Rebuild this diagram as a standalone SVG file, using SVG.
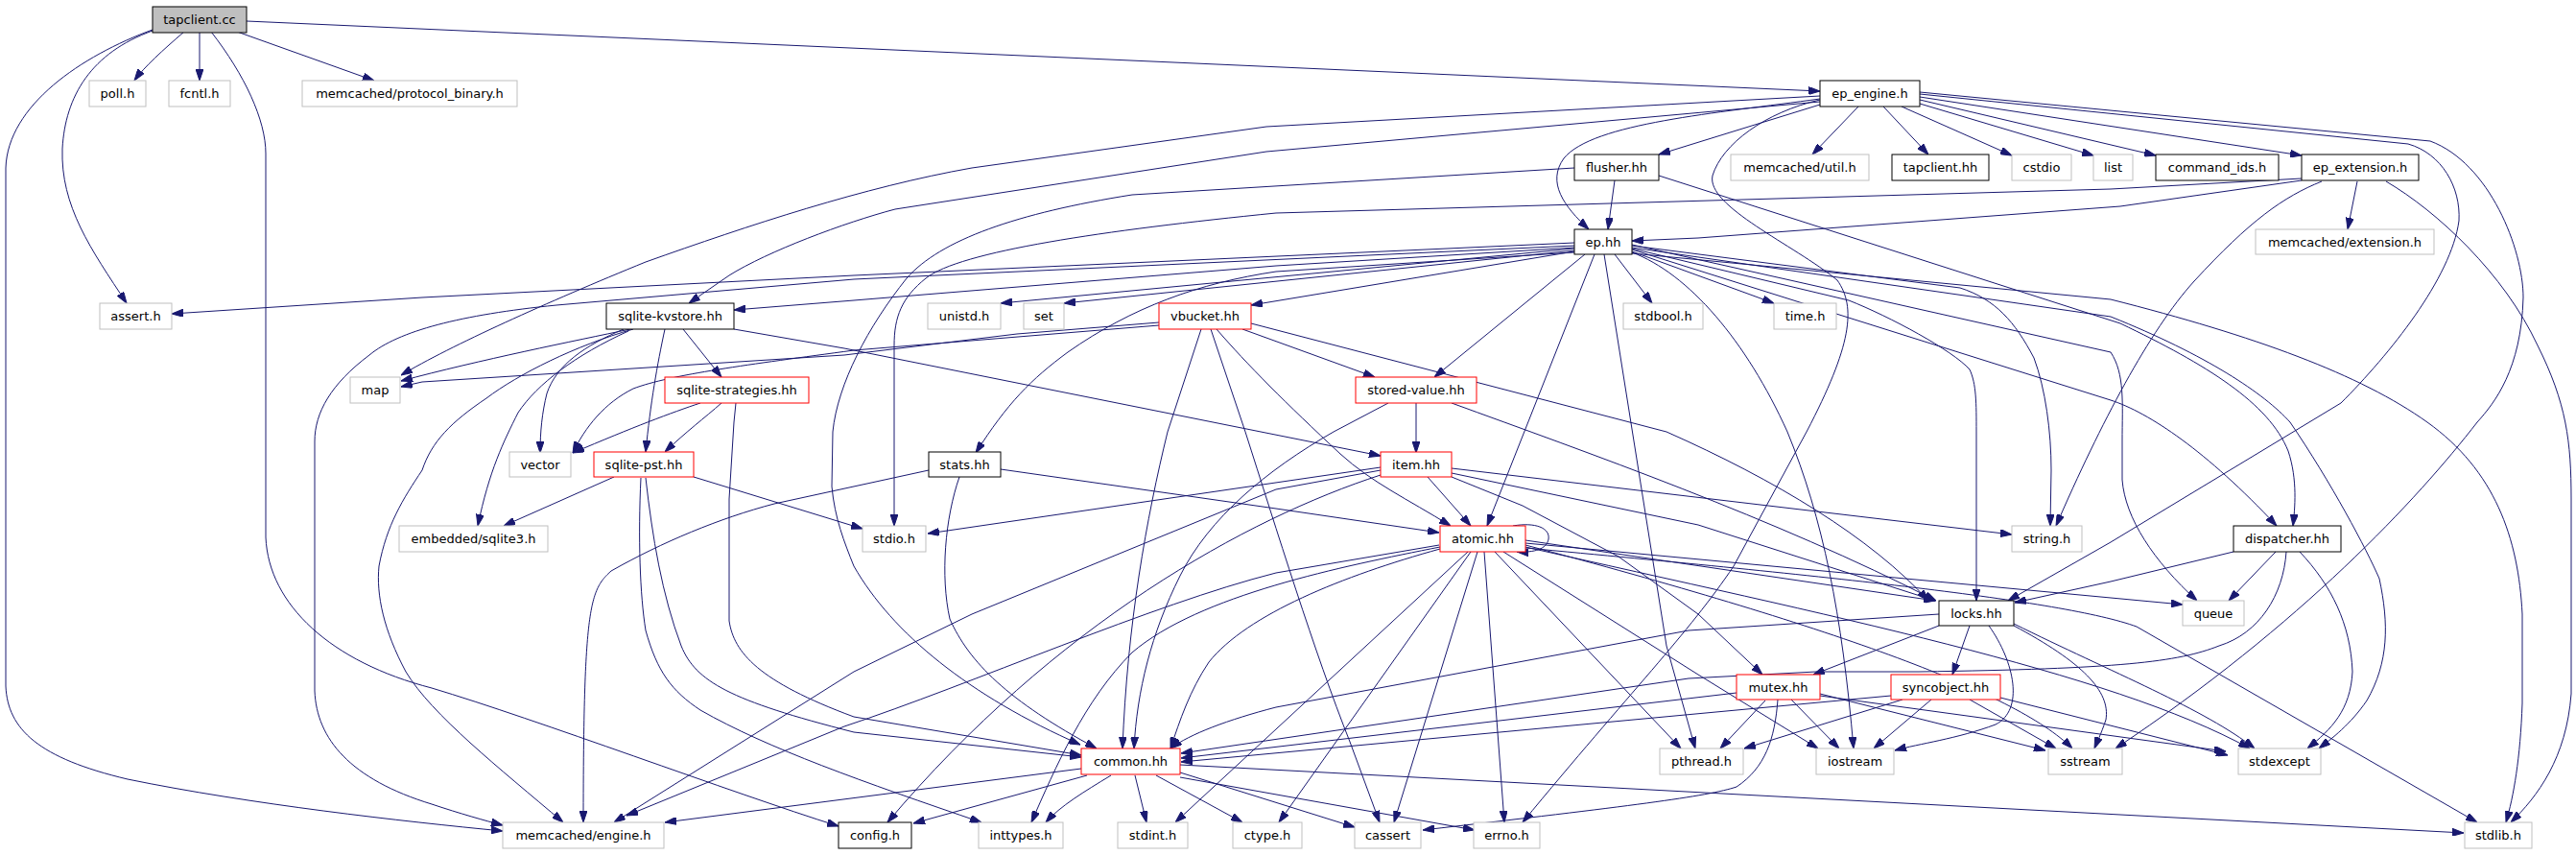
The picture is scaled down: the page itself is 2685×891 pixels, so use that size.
<svg xmlns="http://www.w3.org/2000/svg" width="2685" height="891" viewBox="0 0 2685 891">
<style>
.e{fill:none;stroke:#191970;stroke-width:1;marker-end:url(#a)}
rect{fill:#fff;stroke-width:1}
.b{stroke:#000}
.r{stroke:#f00}
.g{stroke:#bfbfbf}
text{font-family:"DejaVu Sans",sans-serif;font-size:13px;text-anchor:middle;fill:#000}
</style>
<defs>
<marker id="a" markerUnits="userSpaceOnUse" markerWidth="12" markerHeight="8" refX="12" refY="4" orient="auto"><path d="M0,0 L12,4 L0,8 z" fill="#191970" stroke="#191970"/></marker>
</defs>
<rect x="0" y="0" width="2685" height="891" style="fill:#fff;stroke:none"/>
<g id="edges">
<path class="e" d="M192,33 C170,52 150,70 140,84"/>
<path class="e" d="M208,33 L208,84"/>
<path class="e" d="M247,33 L390,84"/>
<path class="e" d="M257,22 L1897,95"/>
<path class="e" d="M159,32 C95,55 68,100 65,155 C63,215 95,260 132,316"/>
<path class="e" d="M159,31 C85,58 8,110 6,175 L6,715 C8,760 40,790 133,812 C260,838 420,856 524,866"/>
<path class="e" d="M220,33 C255,78 277,125 277,160 L277,560 C280,630 345,690 450,717 C560,750 760,825 874,861"/>
<path class="e" d="M1937,111 L1889,161"/>
<path class="e" d="M1963,111 L2010,161"/>
<path class="e" d="M1982,111 L2097,162"/>
<path class="e" d="M2001,108 L2182,162"/>
<path class="e" d="M2001,104 L2247,162"/>
<path class="e" d="M2001,101 L2399,162"/>
<path class="e" d="M1897,109 L1729,161"/>
<path class="e" d="M1897,103 C1790,118 1660,128 1630,165 C1612,190 1630,215 1656,239"/>
<path class="e" d="M1897,106 L1320,158 L933,218 C880,232 800,262 760,287 L718,316"/>
<path class="e" d="M1897,100 L1320,132 L1013,175 C900,195 780,235 673,273 C570,315 470,360 418,391"/>
<path class="e" d="M1897,104 C1840,117 1795,150 1785,183 C1778,215 1870,255 1915,292 C1935,320 1930,360 1883,450 L1807,590 C1760,660 1700,720 1587,857"/>
<path class="e" d="M2001,98 L2510,150 C2545,160 2565,195 2563,230 C2555,290 2490,370 2440,420 L2200,565 L2093,626"/>
<path class="e" d="M2001,96 L2533,147 C2595,170 2630,260 2630,310 C2628,385 2600,420 2582,440 C2520,520 2400,650 2205,780"/>
<path class="e" d="M1683,188 L1676,239"/>
<path class="e" d="M1641,175 L1180,203 C1060,222 980,250 945,290 C905,340 873,400 868,450 L867,507 C870,540 880,565 890,590 C930,660 1010,725 1126,776"/>
<path class="e" d="M1729,183 L2210,337 C2300,380 2365,420 2385,470 C2395,500 2392,530 2390,548"/>
<path class="e" d="M2399,188 L2210,215 L1770,248 L1701,251"/>
<path class="e" d="M2457,189 L2447,239"/>
<path class="e" d="M2399,186 L2200,197 L1330,222 C1150,240 1000,262 965,290 C940,310 932,330 932,360 L932,548"/>
<path class="e" d="M2420,189 C2380,205 2345,230 2287,293 C2240,345 2190,440 2143,548"/>
<path class="e" d="M2487,189 C2540,220 2610,285 2645,360 C2675,420 2680,460 2680,520 L2680,723 C2675,790 2645,830 2617,857"/>
<path class="e" d="M1641,253 L890,287 L440,310 L179,327"/>
<path class="e" d="M1641,256 L890,291 L580,318 C480,328 415,345 385,370 C345,400 328,430 328,460 L328,720 C330,770 365,812 450,838 C480,848 505,855 524,860"/>
<path class="e" d="M1641,258 L1330,277 L890,313 L765,323"/>
<path class="e" d="M1641,259 L1043,316"/>
<path class="e" d="M1641,261 L1109,316"/>
<path class="e" d="M1641,262 L1304,318"/>
<path class="e" d="M1683,265 L1722,316"/>
<path class="e" d="M1701,262 L1849,316"/>
<path class="e" d="M1652,265 L1495,393"/>
<path class="e" d="M1641,263 L1330,283 C1250,295 1180,320 1113,367 C1075,395 1050,420 1017,472"/>
<path class="e" d="M1662,265 L1550,548"/>
<path class="e" d="M1672,265 L1737,673 L1767,780"/>
<path class="e" d="M1701,263 C1760,285 1820,355 1863,450 C1900,540 1920,640 1932,780"/>
<path class="e" d="M1701,259 L1927,313 C1970,330 2035,365 2053,385 C2060,400 2060,420 2060,450 L2060,626"/>
<path class="e" d="M1701,256 L2043,300 C2080,312 2100,335 2120,373 C2132,405 2138,450 2138,490 L2137,548"/>
<path class="e" d="M1701,255 L2200,367 C2215,390 2212,420 2212,460 L2212,500 C2215,540 2245,585 2290,626"/>
<path class="e" d="M1701,260 L2200,417 C2240,430 2300,470 2373,548"/>
<path class="e" d="M1701,258 L2200,330 C2300,370 2360,410 2387,440 C2430,503 2467,573 2480,603 C2490,650 2490,690 2467,730 C2450,755 2430,770 2417,780"/>
<path class="e" d="M1701,264 L2200,312 C2350,350 2460,390 2530,440 C2600,490 2625,560 2629,640 L2629,733 C2627,790 2620,830 2612,857"/>
<path class="e" d="M1208,336 L1060,348 L880,370 L440,398 L418,403"/>
<path class="e" d="M1208,339 L890,365 C780,380 700,390 660,405 C630,420 610,445 597,472"/>
<path class="e" d="M1252,343 L1217,450 C1195,540 1175,650 1170,780"/>
<path class="e" d="M1262,343 L1298,450 C1330,550 1370,680 1407,773 L1438,857"/>
<path class="e" d="M1268,343 C1300,380 1340,420 1397,473 C1430,503 1467,520 1512,548"/>
<path class="e" d="M1295,343 L1433,393"/>
<path class="e" d="M1304,337 L1737,450 C1850,500 1950,560 2010,626"/>
<path class="e" d="M1476,420 L1476,472"/>
<path class="e" d="M1447,420 L1390,450 C1320,490 1260,540 1230,600 C1200,660 1185,720 1182,780"/>
<path class="e" d="M1513,420 C1650,470 1850,540 2018,626"/>
<path class="e" d="M657,343 C600,355 500,375 418,397"/>
<path class="e" d="M650,343 C610,360 580,380 570,410 C565,430 563,450 563,472"/>
<path class="e" d="M655,345 C600,370 560,400 540,430 C525,460 510,490 498,548"/>
<path class="e" d="M660,343 C600,360 540,390 507,415 C470,440 450,460 440,490 C420,520 403,547 395,590 C392,620 400,657 423,700 C450,745 520,800 587,857"/>
<path class="e" d="M712,343 L752,393"/>
<path class="e" d="M693,343 C685,380 678,420 673,471"/>
<path class="e" d="M765,343 L880,363 L1439,475"/>
<path class="e" d="M730,420 C700,430 660,445 597,472"/>
<path class="e" d="M752,420 C735,435 715,450 693,471"/>
<path class="e" d="M767,420 L765,440 L760,520 L760,647 C765,680 790,710 890,747 L1127,787"/>
<path class="e" d="M640,497 L525,548"/>
<path class="e" d="M723,497 L899,551"/>
<path class="e" d="M673,498 C680,560 690,620 710,673 C725,710 760,730 890,763 L1127,789"/>
<path class="e" d="M668,498 C665,560 667,620 673,657 C685,700 700,720 730,740 C800,780 900,815 1023,857"/>
<path class="e" d="M968,490 L807,525 C750,540 690,565 637,595 C615,615 608,630 608,857"/>
<path class="e" d="M1000,497 C985,540 980,600 990,645 C1010,690 1050,730 1143,780"/>
<path class="e" d="M1043,489 L1330,530 L1500,555"/>
<path class="e" d="M1488,497 L1533,548"/>
<path class="e" d="M1439,490 L1330,510 L1013,640 L890,700 L640,857"/>
<path class="e" d="M1439,487 L967,556"/>
<path class="e" d="M1439,495 C1300,540 1100,650 925,857"/>
<path class="e" d="M1513,488 L2097,557"/>
<path class="e" d="M1513,497 L1587,527 L1687,580 L1770,640 L1837,703"/>
<path class="e" d="M1513,493 L1770,547 L2017,626"/>
<path class="e" d="M1577,548 C1600,544 1616,550 1614,562 C1612,572 1600,576 1581,575"/>
<path class="e" d="M1500,568 L1330,597 C1200,630 1013,713 880,757 L653,850"/>
<path class="e" d="M1501,570 C1400,590 1250,620 1180,680 C1130,730 1100,800 1075,857"/>
<path class="e" d="M1501,572 C1400,600 1300,640 1260,690 C1240,720 1230,750 1220,780"/>
<path class="e" d="M1530,575 L1225,857"/>
<path class="e" d="M1533,575 L1333,857"/>
<path class="e" d="M1540,575 L1453,857"/>
<path class="e" d="M1547,575 L1568,857"/>
<path class="e" d="M1558,575 L1752,780"/>
<path class="e" d="M1567,575 L1770,703 L1895,780"/>
<path class="e" d="M1590,563 L2017,626"/>
<path class="e" d="M1590,566 L2275,630"/>
<path class="e" d="M1590,568 C1900,650 2100,720 2160,780"/>
<path class="e" d="M1590,570 C1900,640 2200,700 2345,780"/>
<path class="e" d="M1590,571 C1900,600 2150,625 2227,653 L2582,857"/>
<path class="e" d="M1127,801 L693,857"/>
<path class="e" d="M1133,808 L952,858"/>
<path class="e" d="M1158,808 C1130,825 1105,840 1090,857"/>
<path class="e" d="M1183,808 L1195,857"/>
<path class="e" d="M1205,808 L1295,857"/>
<path class="e" d="M1230,805 L1412,862"/>
<path class="e" d="M1230,810 L1537,865"/>
<path class="e" d="M1230,797 L2568,868"/>
<path class="e" d="M1840,730 L1793,780"/>
<path class="e" d="M1867,729 L1917,780"/>
<path class="e" d="M1897,723 L2132,782"/>
<path class="e" d="M1853,729 C1850,770 1840,800 1810,820 C1780,830 1700,840 1483,865"/>
<path class="e" d="M1810,722 L1231,790"/>
<path class="e" d="M1897,725 L2320,783"/>
<path class="e" d="M1983,729 L1818,780"/>
<path class="e" d="M2013,729 L1953,780"/>
<path class="e" d="M2053,729 L2143,780"/>
<path class="e" d="M2085,727 L2322,787"/>
<path class="e" d="M1971,725 L1231,794"/>
<path class="e" d="M2021,640 L1760,657 L1330,737 C1280,750 1240,765 1220,780"/>
<path class="e" d="M2021,652 L1890,703"/>
<path class="e" d="M2053,652 L2035,703"/>
<path class="e" d="M2073,652 C2100,690 2110,740 2080,755 C2040,770 2000,775 1975,782"/>
<path class="e" d="M2099,652 C2170,690 2200,720 2195,750 C2190,765 2185,775 2183,780"/>
<path class="e" d="M2099,650 C2200,700 2300,740 2350,780"/>
<path class="e" d="M2328,575 L2200,606 L2100,628"/>
<path class="e" d="M2372,575 L2323,626"/>
<path class="e" d="M2397,575 C2430,610 2450,650 2452,700 C2450,740 2430,760 2405,780"/>
<path class="e" d="M2383,575 C2380,620 2355,660 2313,673 C2270,690 2210,697 2000,700 L1893,700 L1760,707 L1231,785"/>
</g>
<g id="n_tapclient_cc"><rect x="159" y="7" width="98" height="27" style="fill:#bfbfbf" class="b"/><text x="208" y="25">tapclient.cc</text></g>
<g id="n_poll_h"><rect x="93" y="84" width="59" height="27" class="g"/><text x="122.5" y="102">poll.h</text></g>
<g id="n_fcntl_h"><rect x="176" y="84" width="64" height="27" class="g"/><text x="208" y="102">fcntl.h</text></g>
<g id="n_protocol_binary_h"><rect x="315" y="84" width="224" height="27" class="g"/><text x="427" y="102">memcached/protocol_binary.h</text></g>
<g id="n_ep_engine_h"><rect x="1897" y="84" width="104" height="27" class="b"/><text x="1949" y="102">ep_engine.h</text></g>
<g id="n_util_h"><rect x="1804" y="161" width="144" height="27" class="g"/><text x="1876" y="179">memcached/util.h</text></g>
<g id="n_tapclient_hh"><rect x="1972" y="161" width="101" height="27" class="b"/><text x="2022.5" y="179">tapclient.hh</text></g>
<g id="n_cstdio"><rect x="2097" y="161" width="62" height="27" class="g"/><text x="2128" y="179">cstdio</text></g>
<g id="n_list"><rect x="2182" y="161" width="41" height="27" class="g"/><text x="2202.5" y="179">list</text></g>
<g id="n_command_ids_h"><rect x="2247" y="161" width="128" height="27" class="b"/><text x="2311" y="179">command_ids.h</text></g>
<g id="n_ep_extension_h"><rect x="2399" y="161" width="122" height="27" class="b"/><text x="2460" y="179">ep_extension.h</text></g>
<g id="n_flusher_hh"><rect x="1641" y="161" width="88" height="27" class="b"/><text x="1685" y="179">flusher.hh</text></g>
<g id="n_ep_hh"><rect x="1641" y="239" width="60" height="26" class="b"/><text x="1671" y="257">ep.hh</text></g>
<g id="n_extension_h"><rect x="2351" y="239" width="186" height="26" class="g"/><text x="2444" y="257">memcached/extension.h</text></g>
<g id="n_assert_h"><rect x="104" y="316" width="75" height="27" class="g"/><text x="141.5" y="334">assert.h</text></g>
<g id="n_sqlite_kvstore_hh"><rect x="632" y="316" width="133" height="27" class="b"/><text x="698.5" y="334">sqlite-kvstore.hh</text></g>
<g id="n_unistd_h"><rect x="967" y="316" width="76" height="27" class="g"/><text x="1005" y="334">unistd.h</text></g>
<g id="n_set"><rect x="1067" y="316" width="42" height="27" class="g"/><text x="1088" y="334">set</text></g>
<g id="n_vbucket_hh"><rect x="1208" y="316" width="96" height="27" class="r"/><text x="1256" y="334">vbucket.hh</text></g>
<g id="n_stdbool_h"><rect x="1692" y="316" width="83" height="27" class="g"/><text x="1733.5" y="334">stdbool.h</text></g>
<g id="n_time_h"><rect x="1849" y="316" width="65" height="27" class="g"/><text x="1881.5" y="334">time.h</text></g>
<g id="n_map"><rect x="365" y="393" width="52" height="27" class="g"/><text x="391" y="411">map</text></g>
<g id="n_sqlite_strategies_hh"><rect x="693" y="393" width="150" height="27" class="r"/><text x="768" y="411">sqlite-strategies.hh</text></g>
<g id="n_stored_value_hh"><rect x="1413" y="393" width="126" height="27" class="r"/><text x="1476" y="411">stored-value.hh</text></g>
<g id="n_vector"><rect x="531" y="471" width="64" height="26" class="g"/><text x="563" y="489">vector</text></g>
<g id="n_sqlite_pst_hh"><rect x="619" y="471" width="104" height="26" class="r"/><text x="671" y="489">sqlite-pst.hh</text></g>
<g id="n_stats_hh"><rect x="968" y="471" width="75" height="26" class="b"/><text x="1005.5" y="489">stats.hh</text></g>
<g id="n_item_hh"><rect x="1439" y="471" width="74" height="26" class="r"/><text x="1476" y="489">item.hh</text></g>
<g id="n_sqlite3_h"><rect x="416" y="548" width="155" height="27" class="g"/><text x="493.5" y="566">embedded/sqlite3.h</text></g>
<g id="n_stdio_h"><rect x="899" y="548" width="66" height="27" class="g"/><text x="932" y="566">stdio.h</text></g>
<g id="n_atomic_hh"><rect x="1501" y="548" width="89" height="27" class="r"/><text x="1545.5" y="566">atomic.hh</text></g>
<g id="n_string_h"><rect x="2097" y="548" width="73" height="27" class="g"/><text x="2133.5" y="566">string.h</text></g>
<g id="n_dispatcher_hh"><rect x="2328" y="548" width="112" height="27" class="b"/><text x="2384" y="566">dispatcher.hh</text></g>
<g id="n_locks_hh"><rect x="2021" y="626" width="78" height="26" class="b"/><text x="2060" y="644">locks.hh</text></g>
<g id="n_queue"><rect x="2275" y="626" width="64" height="26" class="g"/><text x="2307" y="644">queue</text></g>
<g id="n_mutex_hh"><rect x="1810" y="703" width="87" height="26" class="r"/><text x="1853.5" y="721">mutex.hh</text></g>
<g id="n_syncobject_hh"><rect x="1971" y="703" width="114" height="26" class="r"/><text x="2028" y="721">syncobject.hh</text></g>
<g id="n_common_hh"><rect x="1127" y="780" width="103" height="27" class="r"/><text x="1178.5" y="798">common.hh</text></g>
<g id="n_pthread_h"><rect x="1730" y="780" width="87" height="27" class="g"/><text x="1773.5" y="798">pthread.h</text></g>
<g id="n_iostream"><rect x="1893" y="780" width="81" height="27" class="g"/><text x="1933.5" y="798">iostream</text></g>
<g id="n_sstream"><rect x="2135" y="780" width="77" height="27" class="g"/><text x="2173.5" y="798">sstream</text></g>
<g id="n_stdexcept"><rect x="2333" y="780" width="86" height="27" class="g"/><text x="2376" y="798">stdexcept</text></g>
<g id="n_engine_h"><rect x="524" y="857" width="168" height="27" class="g"/><text x="608" y="875">memcached/engine.h</text></g>
<g id="n_config_h"><rect x="874" y="857" width="76" height="27" class="b"/><text x="912" y="875">config.h</text></g>
<g id="n_inttypes_h"><rect x="1020" y="857" width="88" height="27" class="g"/><text x="1064" y="875">inttypes.h</text></g>
<g id="n_stdint_h"><rect x="1165" y="857" width="73" height="27" class="g"/><text x="1201.5" y="875">stdint.h</text></g>
<g id="n_ctype_h"><rect x="1285" y="857" width="72" height="27" class="g"/><text x="1321" y="875">ctype.h</text></g>
<g id="n_cassert"><rect x="1412" y="857" width="69" height="27" class="g"/><text x="1446.5" y="875">cassert</text></g>
<g id="n_errno_h"><rect x="1536" y="857" width="69" height="27" class="g"/><text x="1570.5" y="875">errno.h</text></g>
<g id="n_stdlib_h"><rect x="2569" y="857" width="70" height="27" class="g"/><text x="2604" y="875">stdlib.h</text></g>
</svg>
